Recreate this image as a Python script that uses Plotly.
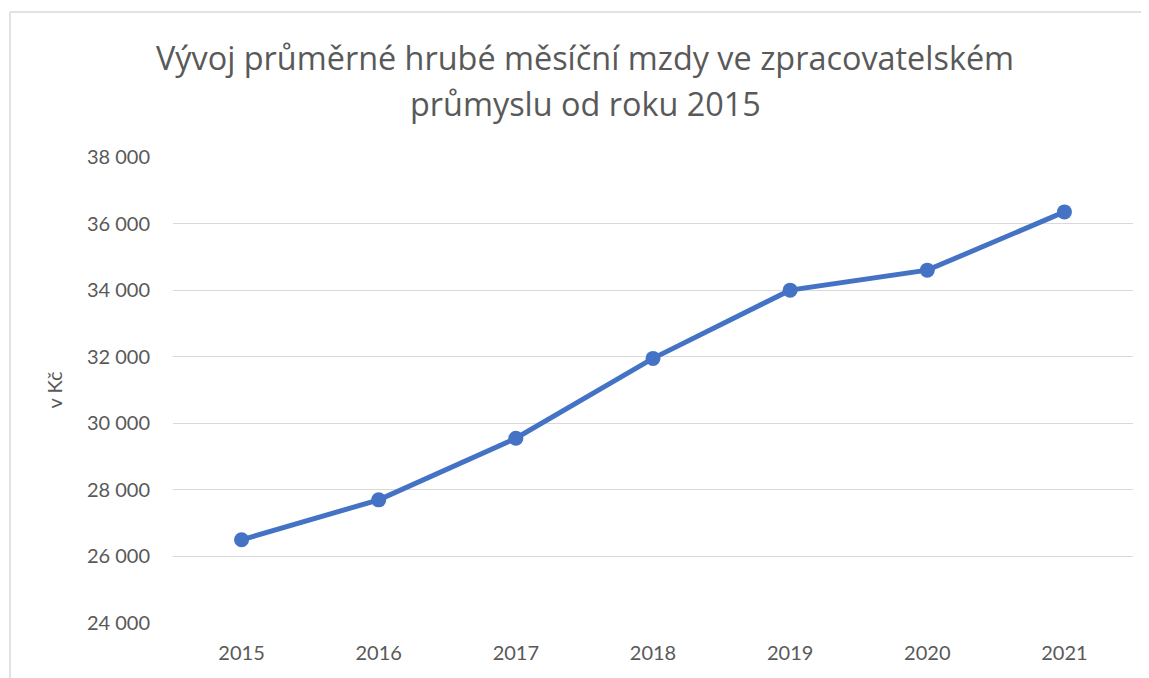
import plotly.graph_objects as go

years = ["2015", "2016", "2017", "2018", "2019", "2020", "2021"]
wages = [26500, 27700, 29550, 31950, 34000, 34600, 36350]
y_ticks = [24000, 26000, 28000, 30000, 32000, 34000, 36000, 38000]
y_tick_labels = ["24 000", "26 000", "28 000", "30 000", "32 000", "34 000", "36 000", "38 000"]
title_lines = ["Vývoj průměrné hrubé měsíční mzdy ve zpracovatelském",
               "průmyslu od roku 2015"]

# page body has an 8px margin; figure coordinates = page coordinates - 8
OFF = 8
W, H = 1149 - OFF, 678 - OFF
L, R, T, B = 173 - OFF, 1149 - 1133, 157 - OFF, 678 - 623
pw, ph = W - L - R, H - T - B


def px_x(page_x):
    return (page_x - OFF - L) / pw


def px_y(page_y):
    return (H - (page_y - OFF) - B) / ph


fig = go.Figure()
fig.add_trace(go.Scatter(
    x=years, y=wages, mode="lines+markers",
    line=dict(color="#4472C4", width=5),
    marker=dict(color="#4472C4", size=15),
    showlegend=False,
))

tick_font = "Lato, 'Open Sans', sans-serif"
title_font = "'Open Sans', Lato, sans-serif"

annotations = []
for line, cy in zip(title_lines, [57, 103]):
    annotations.append(dict(
        text=line, xref="paper", yref="paper",
        x=px_x(585), y=px_y(cy), xanchor="center", yanchor="middle",
        showarrow=False, font=dict(size=32.4, color="#595959", family=title_font),
    ))

fig.update_layout(
    width=W, height=H,
    margin=dict(l=L, r=R, t=T, b=B),
    paper_bgcolor="white", plot_bgcolor="white",
    font=dict(family=tick_font, color="#595959", size=20),
    xaxis=dict(
        type="category", range=[-0.5, 6.5], showgrid=False, showline=False,
        ticks="", tickfont=dict(size=20, color="#595959"), ticklabelstandoff=16,
    ),
    yaxis=dict(
        range=[24000, 38000], tickvals=y_ticks, ticktext=y_tick_labels,
        showgrid=True, gridcolor="#D9D9D9", gridwidth=1.3, zeroline=False,
        showline=False, ticks="", tickfont=dict(size=20, color="#595959"),
        ticklabelstandoff=22,
        title=dict(text="v Kč", font=dict(size=20, color="#595959"), standoff=18),
    ),
    annotations=annotations,
    shapes=[
        dict(type="line", xref="paper", yref="paper",
             x0=px_x(10), x1=px_x(1149), y0=px_y(12), y1=px_y(12),
             line=dict(color="#D9D9D9", width=1.5)),
        dict(type="line", xref="paper", yref="paper",
             x0=px_x(10), x1=px_x(10), y0=px_y(12), y1=px_y(678),
             line=dict(color="#D9D9D9", width=1.5)),
    ],
)

fig.write_html("out.html", config={"displayModeBar": False},
               post_script="document.body.style.overflow='hidden';")
